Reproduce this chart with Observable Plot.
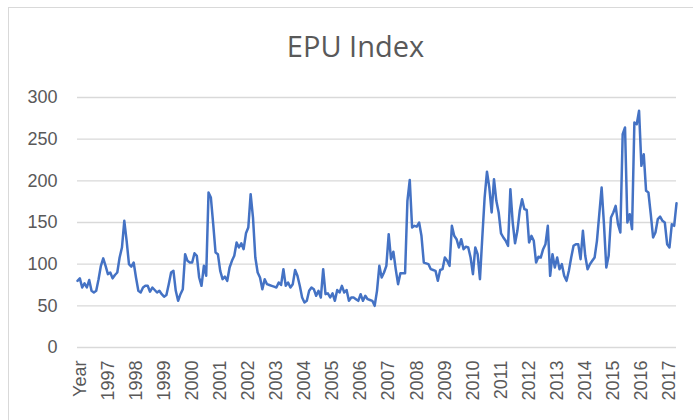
<!DOCTYPE html>
<html>
<head>
<meta charset="utf-8">
<script src="https://cdn.jsdelivr.net/npm/d3@7"></script>
<script src="https://cdn.jsdelivr.net/npm/@observablehq/plot@0.6"></script>
<style>
  html, body { margin: 0; padding: 0; background: #ffffff; }
  #wrap { position: relative; width: 693px; height: 420px; overflow: hidden; background: #ffffff; }
  #frame { position: absolute; left: 8px; top: 7px; width: 720px; height: 440px; border: 1px solid #d9d9d9; box-sizing: border-box; }
  #title { position: relative; height: 80px; box-sizing: border-box; padding-top: 31px; padding-left: 18px; line-height: 29px; text-align: center;
           font-family: "Open Sans", sans-serif; font-size: 29px; color: #595959; margin: 0; font-weight: 400; }
  #chart { position: relative; }
</style>
</head>
<body>
<div id="wrap">
  <div id="frame"></div>
  <div id="title">EPU Index</div>
  <div id="chart"></div>
</div>
<script>
// Monthly EPU index values
const epuValues = [
  80, 83, 72, 77, 72, 81, 68, 66, 68, 82, 98, 107,
  98, 88, 90, 83, 87, 90, 108, 120, 152, 128, 100, 97,
  102, 84, 68, 66, 72, 74, 74, 67, 72, 69, 66, 68,
  64, 61, 63, 76, 90, 92, 68, 56, 64, 70, 112, 104,
  102, 102, 113, 110, 84, 74, 98, 86, 186, 180, 148, 114,
  112, 92, 82, 85, 80, 96, 104, 110, 126, 120, 125, 118,
  137, 144, 184, 156, 108, 90, 84, 70, 82, 76, 75, 74,
  73, 72, 78, 75, 94, 74, 78, 72, 76, 93, 86, 74,
  60, 54, 56, 68, 72, 70, 62, 68, 60, 94, 64, 65,
  60, 65, 56, 69, 66, 74, 66, 69, 56, 60, 60, 58,
  56, 64, 56, 62, 58, 57, 56, 50, 68, 98, 84, 90,
  98, 136, 106, 115, 94, 76, 89, 89, 89, 176, 201, 144,
  146, 145, 150, 134, 102, 101, 100, 94, 93, 92, 80, 93,
  94, 108, 104, 98, 146, 134, 130, 120, 130, 118, 121, 120,
  108, 88, 120, 112, 82, 132, 180, 211, 192, 162, 202, 176,
  162, 137, 132, 128, 122, 190, 150, 125, 140, 164, 178, 166,
  165, 126, 134, 128, 102, 109, 108, 118, 124, 146, 86, 112,
  96, 108, 94, 100, 86, 80, 92, 108, 122, 124, 124, 106,
  140, 110, 94, 100, 104, 108, 128, 160, 192, 148, 96, 110,
  156, 162, 170, 148, 138, 256, 264, 150, 160, 142, 270, 268,
  284, 218, 232, 188, 186, 160, 132, 138, 154, 157, 152, 150,
  124, 120, 148, 146, 173
];
// Category-axis labels, one every 12 months
const yearLabels = ["Year", "1997", "1998", "1999", "2000", "2001", "2002", "2003", "2004",
  "2005", "2006", "2007", "2008", "2009", "2010", "2011", "2012", "2013", "2014",
  "2015", "2016", "2017"];
const yTicks = [0, 50, 100, 150, 200, 250, 300];

const data = epuValues.map((v, i) => ({ month: i, epu: v }));
const tickMonths = yearLabels.map((_, k) => 1 + k * 12);

const chart = Plot.plot({
  width: 693,
  height: 340,
  marginTop: 17,
  marginBottom: 73,
  marginLeft: 77,
  marginRight: 17,
  style: { fontFamily: "'Liberation Sans', Arial, sans-serif", fontSize: "18px", color: "#595959", background: "transparent", overflow: "visible" },
  x: {
    domain: [0, epuValues.length - 1],
    ticks: tickMonths,
    tickFormat: (m) => yearLabels[Math.round((m - 1) / 12)],
    tickRotate: -90,
    tickSize: 0,
    tickPadding: 13,
    label: null
  },
  y: {
    domain: [0, 300],
    ticks: yTicks,
    tickSize: 0,
    tickPadding: 20,
    label: null
  },
  marks: [
    Plot.ruleY(yTicks, { stroke: "#d9d9d9", strokeWidth: 1.3 }),
    Plot.lineY(data, { x: "month", y: "epu", stroke: "#4472C4", strokeWidth: 2.5, strokeLinejoin: "round" })
  ]
});
document.getElementById("chart").appendChild(chart);
</script>
</body>
</html>
